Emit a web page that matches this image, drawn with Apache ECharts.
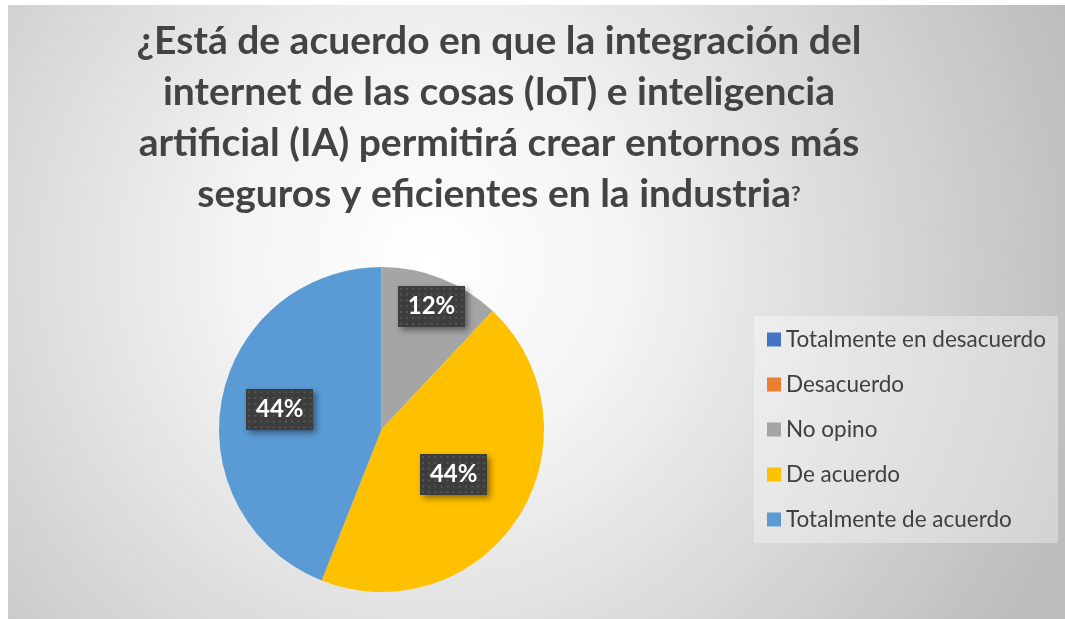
<!DOCTYPE html>
<html><head><meta charset="utf-8">
<script src="https://cdn.jsdelivr.net/npm/echarts@6/dist/echarts.min.js"></script>
<style>html,body{margin:0;padding:0;background:#fff;}#c{position:absolute;left:8px;top:5px;width:1057px;height:614px;}</style>
</head><body><div id="c"></div>
<script>
const categories = ['Totalmente en desacuerdo','Desacuerdo','No opino','De acuerdo','Totalmente de acuerdo'];
const values = [0, 0, 12, 44, 44];
const colors = ['#4472C4','#ED7D31','#A5A5A5','#FFC000','#5B9BD5'];
const titleLines = ['¿Está de acuerdo en que la integración del','internet de las cosas (IoT) e inteligencia','artificial (IA) permitirá crear entornos más','seguros y eficientes en la industria'];
const labelShift = [[0,0],[0,0],[19,-45],[1,0],[-19,-4]];

function makePattern(w,h){
  const cv=document.createElement('canvas'); cv.width=w; cv.height=h;
  const ctx=cv.getContext('2d'); ctx.fillStyle='#3d3d3d'; ctx.fillRect(0,0,w,h);
  ctx.fillStyle='#555555';
  for(let y=2;y<h;y+=6){for(let x=2;x<w;x+=6){ctx.fillRect(x,y,2,2);}}
  return cv;
}
const pat = makePattern(66,42);

const chart = echarts.init(document.getElementById('c'));
chart.setOption({
  backgroundColor: new echarts.graphic.RadialGradient(0.4, 0.42, 1.1, [
    {offset:0,color:'#ffffff'},{offset:0.3,color:'#f3f3f3'},{offset:1,color:'#bdbdbd'}]),
  color: colors,
  title: {
    text: titleLines.join('\n') + '{q|?}',
    left: 491, top: 11, padding: 0, textAlign: 'center',
    textStyle: {fontFamily:'Lato', fontWeight:'bold', fontSize:39, color:'#434343', lineHeight:51,
      rich:{q:{fontFamily:'Lato',fontWeight:'bold',fontSize:21,color:'#434343',lineHeight:51, verticalAlign:'middle'}}}
  },
  legend: {
    orient:'vertical', left:746, top:311,
    data: categories,
    icon:'rect', itemWidth:14, itemHeight:14, itemGap:22,
    padding:[12,12,12,13],
    backgroundColor:'rgba(255,255,255,0.35)',
    textStyle:{fontFamily:'Lato', fontSize:22.5, color:'#404040', lineHeight:21}
  },
  series: [{
    type:'pie', center:[373.5,424.5], radius:162.5, startAngle:90, clockwise:true,
    silent:true, stillShowZeroSum:true, avoidLabelOverlap:false,
    itemStyle:{borderWidth:0},
    label:{show:true, position:'inside', formatter:'{d}%', fontFamily:'Lato', fontWeight:'bold', fontSize:24, color:'#ffffff',
      backgroundColor:{image:pat}, padding:[9,10,8,10],
      shadowColor:'rgba(0,0,0,0.45)', shadowBlur:6, shadowOffsetX:3, shadowOffsetY:3},
    labelLine:{show:false},
    labelLayout: function(p){ const s=labelShift[p.dataIndex]; return {dx:s[0], dy:s[1]}; },
    data: categories.map((n,i)=>({name:n, value:values[i], label:{show: values[i]>0}}))
  }]
});
</script></body></html>
